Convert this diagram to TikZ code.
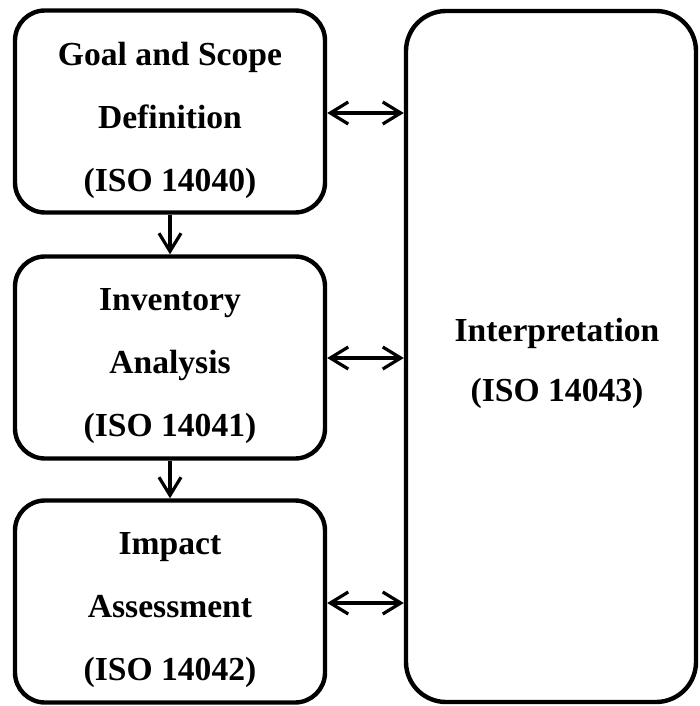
\documentclass[tikz,border=0pt]{standalone}
\usepackage{fontspec}
\setmainfont{Liberation Serif}
\usetikzlibrary{arrows.meta}
\begin{document}
\begin{tikzpicture}[x=0.5pt,y=-0.5pt,
  stage/.style={draw=black,line width=2.2pt,rounded corners=15pt,minimum width=155pt,minimum height=101pt,inner sep=0pt},
  interp/.style={draw=black,line width=2.2pt,rounded corners=20pt,minimum width=145pt,minimum height=345.5pt,inner sep=0pt},
  txt/.style={inner sep=0pt,align=center,font=\fontsize{16.8}{31.5}\selectfont\bfseries},
  link/.style={line width=1.6pt,-{Straight Barb[length=9pt,width=11pt,line width=1.6pt]}},
  dlink/.style={line width=1.6pt,{Straight Barb[length=9pt,width=11pt,line width=1.6pt]}-{Straight Barb[length=9pt,width=11pt,line width=1.6pt]}}]
\useasboundingbox (0,0) rectangle (700,706);
\node[stage] (goal) at (170,111.5) {};
\node[stage] (inv) at (170,357.5) {};
\node[stage] (imp) at (170,601.5) {};
\node[interp] (int) at (551,356.5) {};
\node[txt] (goalt) at ([yshift=-4.5pt]goal.center) {Goal and Scope\\Definition\\(ISO 14040)};
\node[txt] (invt) at ([yshift=-4.5pt]inv.center) {Inventory\\Analysis\\(ISO 14041)};
\node[txt] (impt) at ([yshift=-4.5pt]imp.center) {Impact\\Assessment\\(ISO 14042)};
\node[txt,font=\fontsize{16.8}{30}\selectfont\bfseries] (intt) at ([xshift=3pt,yshift=-3.5pt]int.center) {Interpretation\\(ISO 14043)};
\draw[link] (goal.south) -- (inv.north);
\draw[link] (inv.south) -- (imp.north);
\draw[dlink] (goal.east |- 0,113) -- (int.west |- 0,113);
\draw[dlink] (inv.east |- 0,358) -- (int.west |- 0,358);
\draw[dlink] (imp.east |- 0,603) -- (int.west |- 0,603);
\end{tikzpicture}
\end{document}
